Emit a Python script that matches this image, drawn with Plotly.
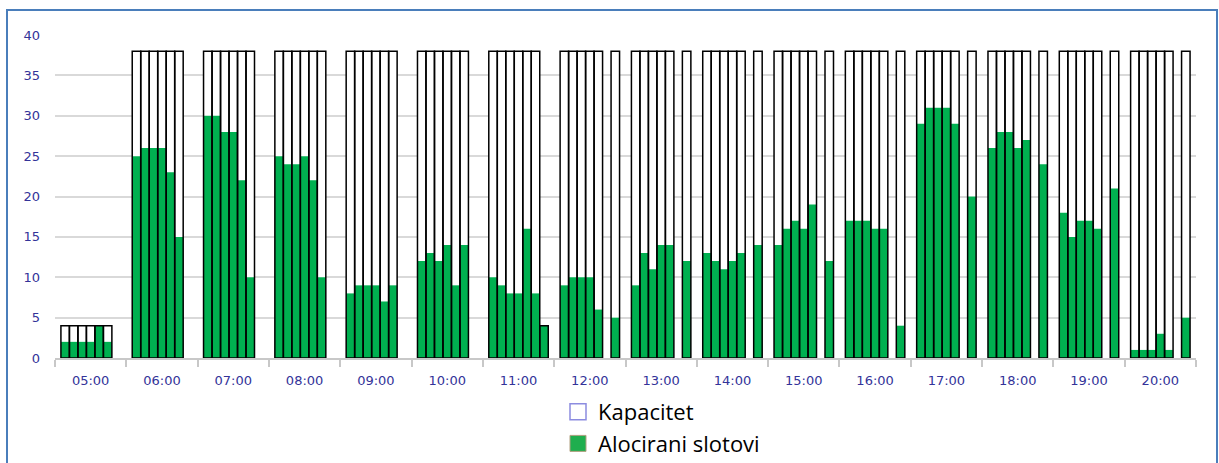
import plotly.graph_objects as go

# ---------------- data ----------------
hours = ["05:00", "06:00", "07:00", "08:00", "09:00", "10:00", "11:00", "12:00",
         "13:00", "14:00", "15:00", "16:00", "17:00", "18:00", "19:00", "20:00"]

# capacity per 10-minute slot (7 slot positions per hour, None = no slot)
cap_0500 = [4, 4, 4, 4, 4, 4, None]
cap_0600 = [38, 38, 38, 38, 38, 38, None]
cap_0700 = [38, 38, 38, 38, 38, 38, None]
cap_0800 = [38, 38, 38, 38, 38, 38, None]
cap_0900 = [38, 38, 38, 38, 38, 38, None]
cap_1000 = [38, 38, 38, 38, 38, 38, None]
cap_1100 = [38, 38, 38, 38, 38, 38, 4]
cap_1200 = [38, 38, 38, 38, 38, None, 38]
cap_1300 = [38, 38, 38, 38, 38, None, 38]
cap_1400 = [38, 38, 38, 38, 38, None, 38]
cap_1500 = [38, 38, 38, 38, 38, None, 38]
cap_1600 = [38, 38, 38, 38, 38, None, 38]
cap_1700 = [38, 38, 38, 38, 38, None, 38]
cap_1800 = [38, 38, 38, 38, 38, None, 38]
cap_1900 = [38, 38, 38, 38, 38, None, 38]
cap_2000 = [38, 38, 38, 38, 38, None, 38]

# allocated slots
alloc_0500 = [2, 2, 2, 2, 4, 2, None]
alloc_0600 = [25, 26, 26, 26, 23, 15, None]
alloc_0700 = [30, 30, 28, 28, 22, 10, None]
alloc_0800 = [25, 24, 24, 25, 22, 10, None]
alloc_0900 = [8, 9, 9, 9, 7, 9, None]
alloc_1000 = [12, 13, 12, 14, 9, 14, None]
alloc_1100 = [10, 9, 8, 8, 16, 8, 4]
alloc_1200 = [9, 10, 10, 10, 6, None, 5]
alloc_1300 = [9, 13, 11, 14, 14, None, 12]
alloc_1400 = [13, 12, 11, 12, 13, None, 14]
alloc_1500 = [14, 16, 17, 16, 19, None, 12]
alloc_1600 = [17, 17, 17, 16, 16, None, 4]
alloc_1700 = [29, 31, 31, 31, 29, None, 20]
alloc_1800 = [26, 28, 28, 26, 27, None, 24]
alloc_1900 = [18, 15, 17, 17, 16, None, 21]
alloc_2000 = [1, 1, 1, 3, 1, None, 5]

y_ticks = [0, 5, 10, 15, 20, 25, 30, 35, 40]

capacity = [cap_0500, cap_0600, cap_0700, cap_0800, cap_0900, cap_1000, cap_1100, cap_1200,
            cap_1300, cap_1400, cap_1500, cap_1600, cap_1700, cap_1800, cap_1900, cap_2000]
allocated = [alloc_0500, alloc_0600, alloc_0700, alloc_0800, alloc_0900, alloc_1000, alloc_1100,
             alloc_1200, alloc_1300, alloc_1400, alloc_1500, alloc_1600, alloc_1700, alloc_1800,
             alloc_1900, alloc_2000]

# ---------------- geometry / style ----------------
SLOT_W = 0.1191
SLOT_START = -0.417
GREEN = "#00B050"
LABEL_COLOR = "#333399"


def build(series):
    xs, ys, offs = [], [], []
    for h, vals in zip(hours, series):
        for j, v in enumerate(vals):
            if v is None:
                continue
            xs.append(h)
            ys.append(v)
            offs.append(SLOT_START + j * SLOT_W)
    return xs, ys, offs


cx, cy, co = build(capacity)
ax, ay, ao = build(allocated)

fig = go.Figure()
# white capacity background (hides gridlines)
fig.add_trace(go.Bar(x=cx, y=cy, offset=co, width=SLOT_W,
                     marker=dict(color="white", line=dict(width=0)),
                     showlegend=False, hoverinfo="skip"))
# allocated slots
fig.add_trace(go.Bar(x=ax, y=ay, offset=ao, width=SLOT_W,
                     marker=dict(color=GREEN, line=dict(width=0)),
                     name="Alocirani slotovi", showlegend=False))
# capacity outlines on top
fig.add_trace(go.Bar(x=cx, y=cy, offset=co, width=SLOT_W,
                     marker=dict(color="rgba(0,0,0,0)", line=dict(color="black", width=1.5)),
                     name="Kapacitet", showlegend=False))

# legend entries
fig.add_trace(go.Scatter(x=[None], y=[None], mode="markers", name="Kapacitet",
                         marker=dict(symbol="square", size=20, color="white",
                                     line=dict(color="#8c8ce0", width=1.5))))
fig.add_trace(go.Scatter(x=[None], y=[None], mode="markers", name="Alocirani slotovi",
                         marker=dict(symbol="square", size=20, color="#1FAE4E",
                                     line=dict(color="#b0a080", width=1))))

L, R, T, B = 55, 23, 35, 105
PW = 1219 - L - R
PH = 463 - T - B

fig.update_layout(
    width=1219, height=463,
    margin=dict(l=L, r=R, t=T, b=B, autoexpand=False),
    barmode="overlay",
    plot_bgcolor="white", paper_bgcolor="white",
    font=dict(family="DejaVu Sans", size=13, color=LABEL_COLOR),
    xaxis=dict(type="category", categoryorder="array", categoryarray=hours,
               range=[-0.5, 15.5], tickson="boundaries", ticks="outside",
               ticklen=7, tickcolor="#c8c8c8", tickwidth=1.5,
               showline=True, linecolor="#c8c8c8", linewidth=1.5,
               showgrid=False, tickfont=dict(size=13, color=LABEL_COLOR),
               ticklabelstandoff=10, fixedrange=True),
    yaxis=dict(range=[0, 40], tickvals=y_ticks, showgrid=True, gridcolor="#d9d9d9",
               gridwidth=1.5, zeroline=False, showline=False, ticks="",
               ticklabelstandoff=14, tickfont=dict(size=13, color=LABEL_COLOR),
               fixedrange=True),
    legend=dict(x=(558 - L) / PW, xanchor="left", y=-(391 - (T + PH)) / PH, yanchor="top",
                font=dict(family="Open Sans", size=22, color="black"),
                bgcolor="rgba(0,0,0,0)", tracegroupgap=0, itemsizing="trace"),
    showlegend=True,
    shapes=[dict(type="rect", xref="paper", yref="paper",
                 x0=(7 - L) / PW, x1=(1217 - L) / PW,
                 y0=-(480 - (T + PH)) / PH, y1=1 + (T - 10) / PH,
                 line=dict(color="#4A7EBB", width=2), fillcolor="rgba(0,0,0,0)",
                 layer="below")],
)

fig.write_html("out.html", config={"displayModeBar": False},
               post_script="document.body.style.margin='0';document.body.style.overflow='hidden';")
